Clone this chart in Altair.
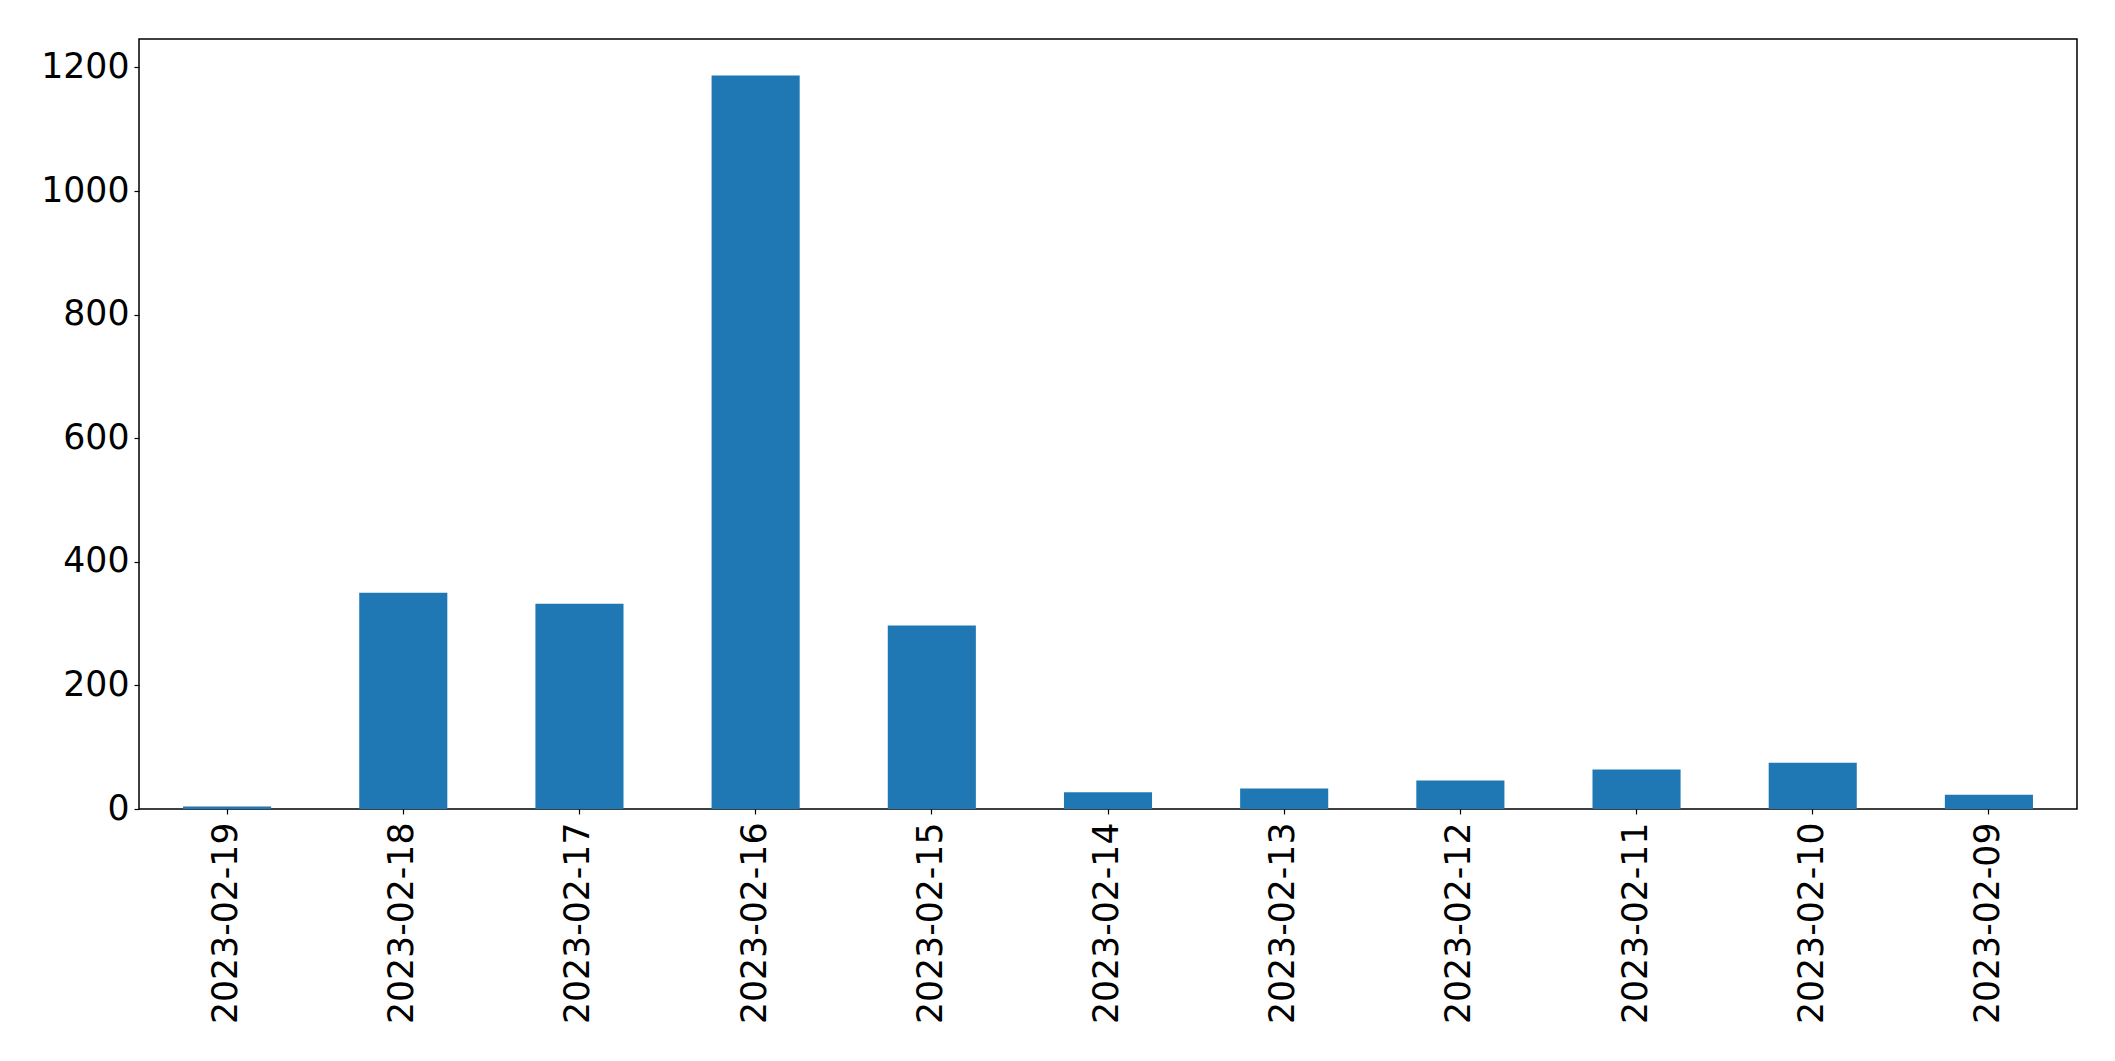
import altair as alt
import pandas as pd

dates = ["2023-02-19", "2023-02-18", "2023-02-17", "2023-02-16", "2023-02-15",
         "2023-02-14", "2023-02-13", "2023-02-12", "2023-02-11", "2023-02-10",
         "2023-02-09"]
counts = [4, 350, 332, 1187, 297, 27, 33, 46, 64, 75, 23]
y_ticks = [0, 200, 400, 600, 800, 1000, 1200]

df = pd.DataFrame({"date": dates, "count": counts})

FONT = "DejaVu Sans"

chart = alt.Chart(df).mark_bar(color="#1f77b4").encode(
    x=alt.X("date:N", sort=dates,
            scale=alt.Scale(paddingInner=0.5, paddingOuter=0.25),
            axis=alt.Axis(title=None, labelAngle=-90, labelAlign="right",
                          labelBaseline="middle", labelFontSize=34.7,
                          labelFont=FONT, labelColor="black", labelPadding=8,
                          labelLimit=0,
                          tickColor="black", tickSize=5, tickWidth=1.2,
                          domain=False, grid=False)),
    y=alt.Y("count:Q",
            scale=alt.Scale(domain=[0, 1246], nice=False, zero=True),
            axis=alt.Axis(title=None, values=y_ticks, format="d",
                          labelFontSize=34.7,
                          labelFont=FONT, labelColor="black", labelPadding=5,
                          tickColor="black", tickSize=5, tickWidth=1.2,
                          domain=False, grid=False)),
).properties(
    width=1938,
    height=770,
    background="white",
    autosize=alt.AutoSizeParams(type="none"),
    padding={"left": 131, "top": 31, "right": 30, "bottom": 240},
).configure_view(
    stroke="black", strokeWidth=1.5
)

chart.save("out.html", embed_options={"renderer": "svg", "actions": False})
